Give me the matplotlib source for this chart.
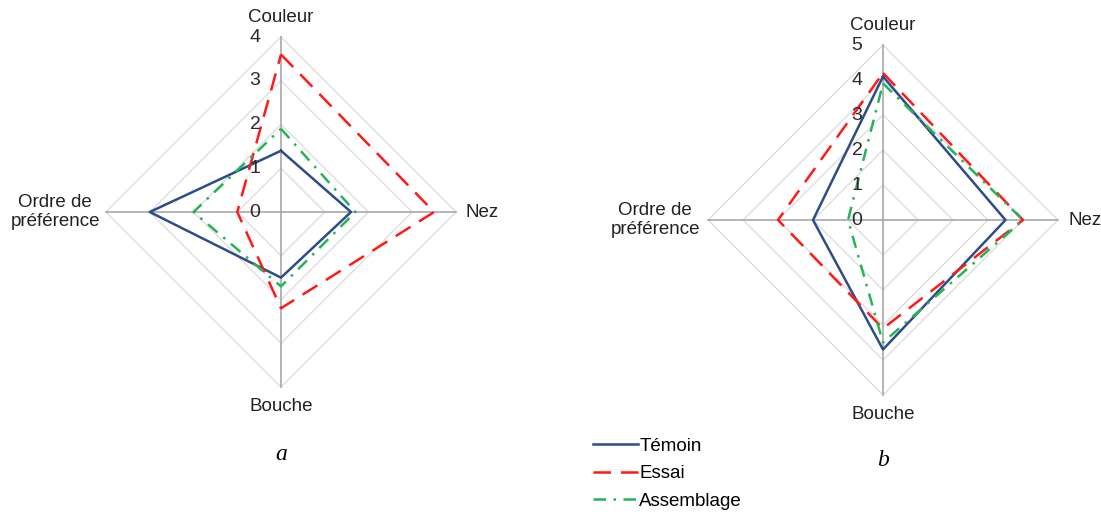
import numpy as np
import matplotlib.pyplot as plt

plt.rcParams['font.family'] = ['Liberation Sans', 'DejaVu Sans']

# Données
axes_noms = ['Couleur', 'Nez', 'Bouche', 'Ordre de\npréférence']
series = ['Témoin', 'Essai', 'Assemblage']

temoin_a = [1.4, 1.6, 1.5, 3.0]
essai_a = [3.6, 3.5, 2.2, 1.0]
assemblage_a = [1.9, 1.7, 1.7, 2.0]

temoin_b = [4.1, 3.5, 3.7, 2.0]
essai_b = [4.2, 4.0, 3.1, 3.0]
assemblage_b = [3.9, 4.0, 3.5, 1.0]

couleurs = ['#2E4C8A', '#FF1A1A', '#25B455']
styles = ['-', (0, (7, 4)), (0, (5, 3, 1, 3))]

W, H = 1101, 512
fig = plt.figure(figsize=(W / 100, H / 100), dpi=100)

# angles : Couleur en haut, puis sens horaire
angles = np.array([0, 0.5, 1.0, 1.5]) * np.pi


def radar(cx, cy, R, vmax, donnees, caption, cap_y, lbl_off):
    # axes cartésiens où 1 unité = R pixels
    half = 330
    ax = fig.add_axes([(cx - half) / W, (H - cy - half) / H, 2 * half / W, 2 * half / H])
    ax.set_xlim(-half / R, half / R)
    ax.set_ylim(-half / R, half / R)
    ax.axis('off')
    ax.set_aspect('equal')

    # grille en losange
    for k in range(1, vmax + 1):
        r = k / vmax
        xs = r * np.sin(np.append(angles, angles[0]))
        ys = r * np.cos(np.append(angles, angles[0]))
        ax.plot(xs, ys, color='#DEDEDE', lw=1.0, zorder=1)
    for a in angles:
        ax.plot([0, np.sin(a)], [0, np.cos(a)], color='#A8A8A8', lw=1.2, zorder=2)

    # graduations
    for k in range(0, vmax + 1):
        ax.text(-26 / R, k / vmax, str(k), ha='center', va='center', fontsize=14, color='#2A2A2A', zorder=5)

    # séries
    for vals, c, ls, nom in zip(donnees, couleurs, styles, series):
        v = np.array(vals) / vmax
        xs = v * np.sin(angles)
        ys = v * np.cos(angles)
        ax.plot(np.append(xs, xs[0]), np.append(ys, ys[0]), color=c, ls=ls, lw=1.8, label=nom, zorder=4)

    # libellés des axes
    ax.text(0, 1 + 20 / R, axes_noms[0], ha='center', va='center', fontsize=13.5, color='#222222')
    ax.text(1 + 10 / R, 0, axes_noms[1], ha='left', va='center', fontsize=13.5, color='#222222')
    ax.text(0, -1 - 19 / R, axes_noms[2], ha='center', va='center', fontsize=13.5, color='#222222')
    ax.text(-1 - lbl_off / R, 0, axes_noms[3], ha='right', va='center', fontsize=13.5,
            color='#222222', multialignment='center', linespacing=1.1)

    fig.text(cx / W, 1 - cap_y / H, caption, ha='center', va='center', fontsize=17,
             style='italic', family='Liberation Serif')
    return ax


radar(281, 212, 175, 4, [temoin_a, essai_a, assemblage_a], 'a', 455, 6)
ax_b = radar(883, 220, 175, 5, [temoin_b, essai_b, assemblage_b], 'b', 460, 8)

handles, labels = ax_b.get_legend_handles_labels()
fig.legend(handles, labels, loc='upper left', bbox_to_anchor=(585 / W, 1 - 430 / H),
           frameon=False, fontsize=13.5, handlelength=2.4, handletextpad=0.1,
           labelspacing=0.55, borderaxespad=0)

fig.savefig('out.png', dpi=100)
